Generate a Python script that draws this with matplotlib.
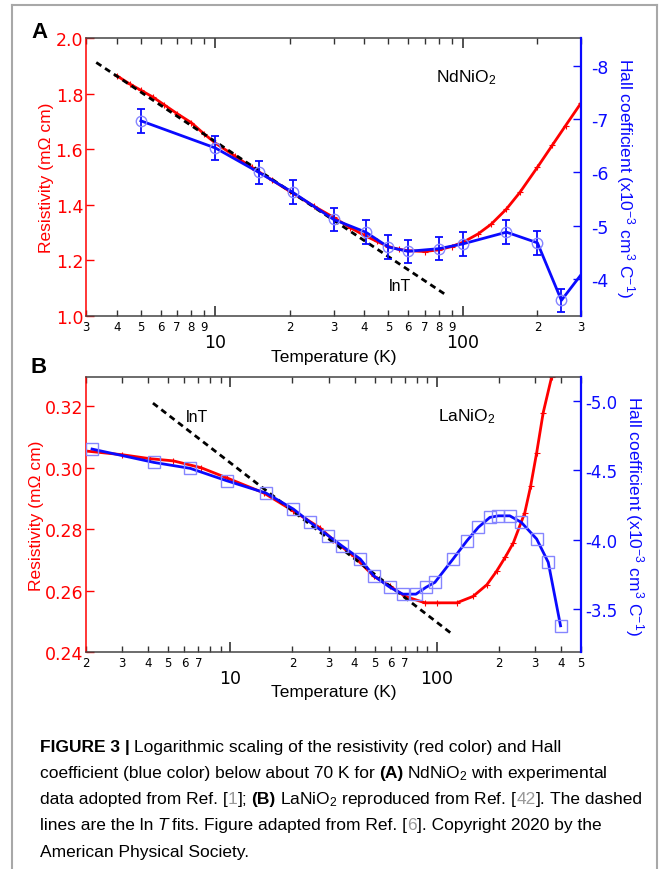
import matplotlib
matplotlib.use('Agg')
import matplotlib.pyplot as plt
from matplotlib.ticker import FixedLocator, FixedFormatter
from matplotlib.lines import Line2D

plt.rcParams['font.family'] = ['DejaVu Sans']
plt.rcParams['axes.unicode_minus'] = False
plt.rcParams['mathtext.default'] = 'regular'

RED = '#ff0000'
BLUE = '#0a0aff'
LIGHT = '#8585ff'
LABEL_FONT = ['Liberation Sans', 'DejaVu Sans']
CAP_FONT = ['Liberation Sans', 'DejaVu Sans']

# ---- panel A : NdNiO2 ----
T_nd_rho = [4.0, 4.5, 5.0, 5.6, 6.2, 7.0, 8.0, 9.0, 10, 12, 14, 17, 20, 25, 30, 35, 40, 45,
            50, 55, 60, 70, 80, 90, 100, 115, 130, 150, 170, 200, 230, 260, 300]
rho_nd = [1.864, 1.835, 1.812, 1.787, 1.760, 1.728, 1.695, 1.655, 1.622, 1.575, 1.535, 1.488,
          1.448, 1.395, 1.355, 1.318, 1.290, 1.268, 1.250, 1.240, 1.235, 1.232, 1.238, 1.250,
          1.265, 1.295, 1.330, 1.385, 1.445, 1.535, 1.615, 1.685, 1.766]

T_nd_hall = [5, 10, 15, 20.5, 30, 40.5, 50, 60, 80, 100, 150, 200, 250]
hall_nd = [-6.97, -6.46, -6.00, -5.63, -5.12, -4.88, -4.60, -4.52, -4.57, -4.66, -4.88, -4.68, -3.60]
hall_nd_err = [0.22] * len(T_nd_hall)
T_nd_hall_end = 300
hall_nd_end = -4.08

T_nd_fit = [3.3, 84.4]
rho_nd_fit = [1.912, 1.079]

# ---- panel B : LaNiO2 ----
T_la_rho = [2.0, 3.0, 4.1, 5.3, 7.2, 9.6, 14.5, 20.2, 27.2, 31.6, 39.6, 49.5, 59.4, 70.3,
            87.8, 100, 125, 150, 175, 195, 215, 235, 267, 285, 305, 328, 360, 380]
rho_la = [0.3055, 0.3043, 0.3030, 0.3023, 0.3001, 0.2968, 0.2919, 0.2860, 0.2805, 0.2765,
          0.2713, 0.2648, 0.2615, 0.2582, 0.2561, 0.2561, 0.2561, 0.2582, 0.2620, 0.2664,
          0.2710, 0.2756, 0.2854, 0.2940, 0.3050, 0.3180, 0.3295, 0.3380]

T_la_hall = [2.14, 4.26, 6.4, 9.6, 14.9, 20.2, 24.4, 29.9, 34.7, 42.6, 49.5, 59.4, 68.5, 79.3,
             88.7, 98, 120, 140, 159, 181, 199, 226, 257, 305, 347, 398]
hall_la = [-4.652, -4.556, -4.513, -4.424, -4.335, -4.220, -4.124, -4.027, -3.955, -3.860,
           -3.739, -3.656, -3.607, -3.607, -3.656, -3.692, -3.860, -3.991, -4.088, -4.160,
           -4.171, -4.171, -4.124, -4.004, -3.836, -3.379]

T_la_fit = [4.22, 120]
rho_la_fit = [0.3211, 0.2457]

minor_A = [3, 4, 5, 6, 7, 8, 9, 20, 30, 40, 50, 60, 70, 80, 90, 200, 300]
minor_A_lab = ['3', '4', '5', '6', '7', '8', '9', '2', '3', '4', '5', '6', '7', '8', '9', '2', '3']
minor_B = [2, 3, 4, 5, 6, 7, 8, 9, 20, 30, 40, 50, 60, 70, 80, 90, 200, 300, 400, 500]
minor_B_lab = ['2', '3', '4', '5', '6', '7', '', '', '2', '3', '4', '5', '6', '7', '', '',
               '2', '3', '4', '5']

W, H = 664, 870
fig = plt.figure(figsize=(W / 100, H / 100), dpi=100)


def px_rect(x0, y0, x1, y1):
    return [x0 / W, 1 - y1 / H, (x1 - x0) / W, (y1 - y0) / H]


def style(ax, ax2, xlim, minors, minor_labels, rpad, rsize):
    ax.set_xscale('log')
    ax.set_xlim(*xlim)
    ax.xaxis.set_major_locator(FixedLocator([10, 100]))
    ax.xaxis.set_major_formatter(FixedFormatter(['10', '100']))
    ax.xaxis.set_minor_locator(FixedLocator(minors))
    ax.xaxis.set_minor_formatter(FixedFormatter(minor_labels))
    ax.tick_params(axis='x', which='major', direction='in', top=True, length=7, width=1.2,
                   pad=12, labelsize=12.5, color='#333333')
    ax.tick_params(axis='x', which='minor', direction='in', top=True, length=4, width=1,
                   pad=3, labelsize=8.5, color='#333333')
    ax.tick_params(axis='y', which='both', direction='in', length=6, width=1,
                   color=RED, labelcolor=RED, labelsize=12.5, pad=2)
    ax2.tick_params(axis='y', which='both', direction='in', length=6, width=1,
                    color=BLUE, labelcolor=BLUE, labelsize=rsize, pad=rpad)
    for s in ['top', 'bottom']:
        ax.spines[s].set_color('#444444')
        ax.spines[s].set_linewidth(1.1)
        ax2.spines[s].set_visible(False)
    ax.spines['left'].set_color(RED)
    ax.spines['left'].set_linewidth(1.1)
    ax.spines['right'].set_visible(False)
    ax2.spines['left'].set_visible(False)
    ax2.spines['right'].set_color(BLUE)
    ax2.spines['right'].set_linewidth(1.6)


# panel A
axA = fig.add_axes(px_rect(86, 39, 581, 317))
axA2 = axA.twinx()
style(axA, axA2, (3, 300), minor_A, minor_A_lab, 7, 12.5)
axA.set_ylim(1.0, 2.0)
axA.set_yticks([1.0, 1.2, 1.4, 1.6, 1.8, 2.0])
axA.yaxis.set_major_formatter(FixedFormatter(['1.0', '1.2', '1.4', '1.6', '1.8', '2.0']))
axA2.set_ylim(-3.306, -8.525)
axA2.set_yticks([-4, -5, -6, -7, -8])
axA2.set_yticklabels(['-4', '-5', '-6', '-7', '-8'])

axA.plot(T_nd_rho, rho_nd, color=RED, lw=2, marker='+', ms=4, mew=0.8)
axA.plot(T_nd_fit, rho_nd_fit, color='black', lw=2, ls=(0, (2.2, 1.6)))
axA2.plot(T_nd_hall + [T_nd_hall_end], hall_nd + [hall_nd_end], color=BLUE, lw=2)
axA2.errorbar(T_nd_hall, hall_nd, yerr=hall_nd_err, fmt='none', ecolor=BLUE,
              elinewidth=1.3, capsize=3, capthick=1.3)
axA2.plot(T_nd_hall, hall_nd, 'o', mfc='none', mec=LIGHT, ms=7.5, mew=1)

axA.text(0.769, 0.86, 'NdNiO$_2$', transform=axA.transAxes, ha='center', va='center',
         fontsize=12.5, family=LABEL_FONT)
axA.text(0.634, 0.108, 'lnT', transform=axA.transAxes, ha='center', va='center',
         fontsize=11.5, family=LABEL_FONT)

# panel B
axB = fig.add_axes(px_rect(86, 378.3, 581, 653.3))
axB2 = axB.twinx()
style(axB, axB2, (2, 500), minor_B, minor_B_lab, 3, 12)
axB.set_ylim(0.24, 0.3295)
axB.set_yticks([0.24, 0.26, 0.28, 0.30, 0.32])
axB.yaxis.set_major_formatter(FixedFormatter(['0.24', '0.26', '0.28', '0.30', '0.32']))
axB2.set_ylim(-3.188, -5.169)
axB2.set_yticks([-3.5, -4.0, -4.5, -5.0])
axB2.set_yticklabels(['-3.5', '-4.0', '-4.5', '-5.0'])

axB.plot(T_la_rho, rho_la, color=RED, lw=2, marker='+', ms=5, mew=0.8)
axB.plot(T_la_fit, rho_la_fit, color='black', lw=2, ls=(0, (2.2, 1.6)))
axB2.plot(T_la_hall, hall_la, color=BLUE, lw=2)
axB2.plot(T_la_hall, hall_la, 's', mfc='none', mec=LIGHT, ms=8, mew=1)

axB.text(0.769, 0.86, 'LaNiO$_2$', transform=axB.transAxes, ha='center', va='center',
         fontsize=12.5, family=LABEL_FONT)
axB.text(0.224, 0.856, 'lnT', transform=axB.transAxes, ha='center', va='center',
         fontsize=11.5, family=LABEL_FONT)

for ax, ax2, xl, yl, y2l in [(axA, axA2, -0.144, -0.079, 1.089),
                             (axB, axB2, -0.141, -0.099, 1.107)]:
    ax.set_xlabel('Temperature (K)', fontsize=12.5, family=LABEL_FONT, va='center')
    ax.xaxis.set_label_coords(0.5, xl)
    ax.set_ylabel('Resistivity (m\u03a9 cm)', fontsize=12.5, color=RED, family=LABEL_FONT,
                  ha='center', va='center')
    ax.yaxis.set_label_coords(yl, 0.5)
    ax2.set_ylabel('Hall coefficient (x10$^{-3}$ cm$^3$ C$^{-1}$)', fontsize=12.5, color=BLUE,
                   family=LABEL_FONT, rotation=270, ha='center', va='center')
    ax2.yaxis.set_label_coords(y2l, 0.5)

fig.text(39.5 / W, 1 - 32.5 / H, 'A', fontsize=16, fontweight='bold', ha='center',
         va='center', family=LABEL_FONT)
fig.text(38.5 / W, 1 - 367.5 / H, 'B', fontsize=16, fontweight='bold', ha='center',
         va='center', family=LABEL_FONT)

# grey frame around the figure
frame = dict(color='#a8a8a8', lw=1.5, transform=fig.transFigure)
fig.add_artist(Line2D([12 / W, 12 / W], [0, 1 - 5.5 / H], **frame))
fig.add_artist(Line2D([657 / W, 657 / W], [0, 1 - 5.5 / H], **frame))
fig.add_artist(Line2D([12 / W, 657 / W], [1 - 5.5 / H, 1 - 5.5 / H], **frame))

# caption, drawn run by run
renderer = fig.canvas.get_renderer()
CAP_SIZE = 12.5


def width_of(s, **kw):
    t = fig.text(0, 0, s, fontsize=CAP_SIZE, family=CAP_FONT, **kw)
    w = t.get_window_extent(renderer).width
    t.remove()
    return w


space_px = (width_of('a a') - width_of('aa')) * 0.85

caption = [
    [('FIGURE 3 |', {'fontweight': 'bold'}, False),
     ('Logarithmic scaling of the resistivity (red color) and Hall', {}, True)],
    [('coefficient (blue color) below about 70 K for', {}, False),
     ('(A)', {'fontweight': 'bold'}, True),
     ('NdNiO$_2$ with experimental', {}, True)],
    [('data adopted from Ref. [', {}, False), ('1', {'color': '#999999'}, False),
     ('];', {}, False), ('(B)', {'fontweight': 'bold'}, True),
     ('LaNiO$_2$ reproduced from Ref. [', {}, True), ('42', {'color': '#999999'}, False),
     ('].', {}, False), ('The dashed', {}, True)],
    [('lines are the ln', {}, False), ('T', {'style': 'italic'}, True),
     ('fits. Figure adapted from Ref. [', {}, True), ('6', {'color': '#999999'}, False),
     (']. Copyright 2020 by the', {}, False)],
    [('American Physical Society.', {}, False)],
]
baselines = [752, 778, 804, 830.5, 857]

for line, yb in zip(caption, baselines):
    x = 40.0
    for text, kw, sp in line:
        if sp:
            x += space_px
        t = fig.text(x / W, 1 - yb / H, text, fontsize=CAP_SIZE, family=CAP_FONT,
                     va='baseline', ha='left', **kw)
        x = t.get_window_extent(renderer).x1

fig.savefig('out.png', dpi=100)
